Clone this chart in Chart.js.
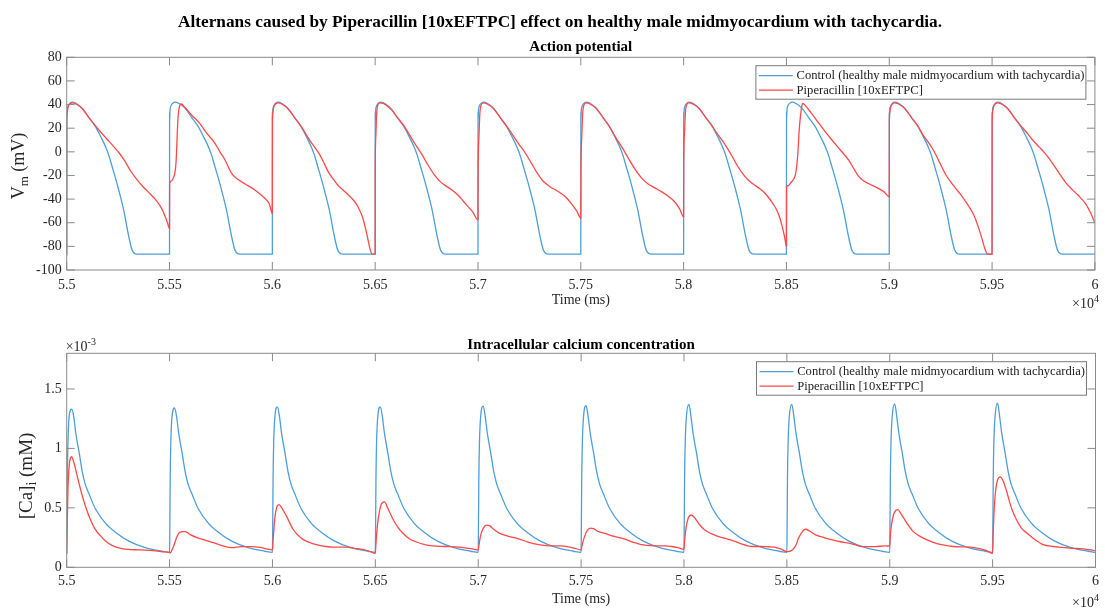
<!DOCTYPE html>
<html>
<head>
<meta charset="utf-8">
<title>Alternans - Piperacillin</title>
<script src="https://cdn.jsdelivr.net/npm/chart.js@4.4.1/dist/chart.umd.min.js"></script>
<style>
  body { margin: 0; background: #fff; }
  #quadro { position: relative; width: 1105px; height: 608px; overflow: hidden; }
  canvas { position: absolute; left: 0; }
</style>
</head>
<body>
<div id="quadro">
  <canvas id="graficoVm" width="1105" height="315" style="top:0;width:1105px;height:315px"></canvas>
  <canvas id="graficoCa" width="1105" height="293" style="top:315px;width:1105px;height:293px"></canvas>
</div>
<script>
// Início de cada batimento (ms) - estímulo a cada 500 ms
const inicioBatimentos = [55000, 55500, 56000, 56500, 57000, 57500, 58000, 58500, 59000, 59500];

// Eixos
const ticksTempo = [55000, 55500, 56000, 56500, 57000, 57500, 58000, 58500, 59000, 59500, 60000];
const rotulosTempo = ['5.5', '5.55', '5.6', '5.65', '5.7', '5.75', '5.8', '5.85', '5.9', '5.95', '6'];
const ticksVm = [-100, -80, -60, -40, -20, 0, 20, 40, 60, 80];
const ticksCa = [0, 0.5, 1, 1.5];
const rotulosCa = ['0', '0.5', '1', '1.5'];

const nomesSeries = ['Control (healthy male midmyocardium with tachycardia)', 'Piperacillin [10xEFTPC]'];

// Potencial de ação do controle: [tempo desde o estímulo (ms), Vm (mV)] - igual em todos os batimentos
const vmControleBatimento = [[0, -86.5], [0.4, 33], [1, 27], [2, 34], [6, 38.5], [15, 41], [30, 42], [50, 40.5], [76, 36.8], [108, 29], [140, 21.3], [165, 13], [189, 4.3], [205, -3], [221, -12.6], [237, -22], [253, -32.3], [277, -49.2], [302, -71.8], [318, -83.1], [334, -86.3], [360, -86.5], [500, -86.5]];

// Potencial de ação com Piperacillin, um array por batimento (alternans)
const vmPipBatimentos = [
  [[0, -88], [0.4, 28], [2, 33], [6, 37.5], [15, 40.5], [30, 41.5], [50, 40], [76, 36.5], [108, 29], [140, 22], [170, 15.7], [200, 10], [226, 5], [255, -1], [280, -7], [310, -16], [335, -22], [371, -29.5], [400, -34.5], [430, -40], [455, -46], [475, -53], [490, -60], [500, -65]],
  [[0, -65], [0.5, -26.6], [10, -24.5], [19, -22], [27, -17], [32, -8], [36, 8], [40, 25], [45, 35], [50, 39.5], [57, 40.5], [75, 37.5], [108, 31], [140, 25.5], [180, 16], [221, 7.2], [245, 0], [270, -6.9], [302, -18.2], [330, -23], [366, -27], [415, -32.3], [463, -39.3], [485, -44], [500, -52]],
  [[0, -52], [0.4, 28], [2, 33], [6, 37.5], [15, 40.5], [30, 41.5], [50, 40], [76, 36.5], [108, 29], [140, 21.5], [181, 10], [210, 3], [229, -2], [250, -9], [272, -17], [300, -24], [320, -28.5], [345, -32.5], [370, -36.5], [395, -41], [415, -46], [440, -56], [460, -70], [475, -82], [485, -86.5], [500, -86.5]],
  [[0, -86.5], [0.5, -12], [3, 12], [7, 32], [12, 39], [22, 41.5], [40, 41], [60, 38.5], [80, 35.5], [108, 29], [140, 22], [165, 15], [200, 5], [230, -3], [260, -12], [290, -20], [315, -25], [345, -29], [375, -32.5], [405, -37], [430, -42], [455, -47], [475, -51], [500, -57.5]],
  [[0, -57.5], [0.5, -20], [4, 10], [9, 32], [15, 39.5], [25, 41.5], [45, 40.5], [76, 36.5], [108, 29], [140, 21.5], [170, 14], [197, 7], [230, -1], [261, -10], [290, -18.5], [315, -24.5], [350, -29.5], [390, -33.5], [425, -38], [455, -44], [480, -50], [500, -56]],
  [[0, -56], [0.5, -21], [4, 10], [9, 32], [15, 39.5], [25, 41.5], [45, 40.5], [76, 36.5], [108, 29], [140, 21], [170, 12], [200, 4], [230, -5], [261, -14], [295, -22], [326, -27], [360, -30.5], [390, -33.5], [425, -37.5], [455, -42], [480, -48], [500, -55]],
  [[0, -55], [0.5, -15], [4, 15], [9, 34], [15, 40], [25, 41.5], [45, 40.5], [76, 36.5], [108, 29], [130, 24], [165, 15], [190, 9], [213, 3], [240, -5], [262, -12], [290, -19], [315, -24], [340, -27.5], [365, -30.5], [390, -34], [410, -38], [435, -44], [455, -50], [470, -57], [482, -65], [492, -73], [500, -80]],
  [[0, -80], [0.5, -29.5], [10, -28.5], [19, -26.6], [32, -24], [43, -20], [50, -12], [56, 0], [62, 18], [68, 30], [73, 37], [79, 41], [95, 38.5], [120, 33], [140, 28.4], [180, 19], [221, 10], [260, 2], [302, -6.9], [330, -15], [350, -20.5], [375, -24.5], [399, -26.8], [447, -30.9], [475, -34], [500, -38]],
  [[0, -38], [0.4, 25], [2, 33], [6, 37.5], [15, 40.5], [25, 41.5], [45, 40.5], [76, 36.5], [108, 29], [140, 21.5], [165, 14], [190, 8], [213, 2], [245, -9], [277, -20], [310, -28], [342, -35], [375, -43], [407, -52], [430, -62], [450, -73], [465, -82], [478, -86.5], [500, -86.5]],
  [[0, -86.5], [0.4, 25], [2, 33], [6, 37.5], [15, 40.5], [27, 41.5], [45, 40.5], [76, 36.5], [108, 29], [140, 22], [165, 17], [197, 10], [230, 4], [261, -2], [295, -10], [326, -18], [358, -26], [390, -32], [420, -37], [455, -44], [480, -52], [500, -60.5]]
];

// Cálcio intracelular do controle (x10^-3 mM); null = pico do batimento (ver picosCaControle)
const caControleBatimento = [[0, 0.12], [1, 0.3], [3, 0.75], [6, 1.05], [12, 1.27], [24, null], [34, 1.27], [44, 1.13], [60, 0.97], [76, 0.8], [90, 0.7], [108, 0.62], [140, 0.49], [189, 0.37], [237, 0.295], [302, 0.22], [382, 0.165], [463, 0.135], [500, 0.125]];
const picosCaControle = [1.33, 1.34, 1.35, 1.35, 1.355, 1.36, 1.37, 1.37, 1.375, 1.38];

// Cálcio intracelular com Piperacillin (x10^-3 mM), um array por batimento
const caPipBatimentos = [
  [[0, 0.11], [2, 0.3], [6, 0.65], [12, 0.85], [24, 0.93], [35, 0.88], [48, 0.79], [65, 0.67], [81, 0.57], [100, 0.47], [113, 0.41], [135, 0.33], [161, 0.27], [190, 0.22], [220, 0.185], [274, 0.155], [355, 0.146], [420, 0.14], [470, 0.13], [500, 0.125]],
  [[0, 0.125], [3, 0.12], [10, 0.14], [20, 0.18], [32, 0.24], [44, 0.285], [60, 0.3], [76, 0.3], [100, 0.275], [140, 0.245], [180, 0.225], [221, 0.203], [260, 0.18], [302, 0.165], [350, 0.174], [399, 0.174], [440, 0.168], [470, 0.155], [500, 0.146]],
  [[0, 0.146], [2, 0.2], [6, 0.3], [12, 0.42], [20, 0.5], [32, 0.527], [45, 0.5], [68, 0.43], [100, 0.32], [130, 0.26], [148, 0.235], [180, 0.21], [213, 0.19], [260, 0.175], [294, 0.17], [358, 0.17], [400, 0.16], [440, 0.15], [471, 0.135], [500, 0.118]],
  [[0, 0.118], [3, 0.2], [10, 0.35], [20, 0.47], [32, 0.54], [44, 0.55], [60, 0.5], [84, 0.41], [108, 0.34], [132, 0.29], [165, 0.24], [197, 0.215], [240, 0.19], [277, 0.18], [342, 0.175], [407, 0.17], [450, 0.16], [471, 0.155], [500, 0.146]],
  [[0, 0.146], [3, 0.18], [12, 0.27], [25, 0.33], [40, 0.355], [55, 0.35], [75, 0.32], [100, 0.29], [140, 0.265], [197, 0.24], [245, 0.21], [294, 0.19], [330, 0.182], [358, 0.18], [400, 0.18], [440, 0.172], [470, 0.16], [500, 0.146]],
  [[0, 0.146], [3, 0.17], [15, 0.25], [30, 0.31], [45, 0.33], [60, 0.325], [85, 0.3], [116, 0.285], [160, 0.26], [213, 0.237], [255, 0.21], [294, 0.19], [340, 0.182], [374, 0.18], [410, 0.18], [439, 0.175], [470, 0.165], [500, 0.152]],
  [[0, 0.152], [3, 0.22], [10, 0.33], [20, 0.41], [35, 0.44], [50, 0.42], [75, 0.36], [100, 0.315], [130, 0.285], [165, 0.26], [213, 0.237], [245, 0.22], [275, 0.2], [310, 0.18], [340, 0.175], [374, 0.175], [410, 0.173], [440, 0.17], [470, 0.155], [500, 0.132]],
  [[0, 0.132], [10, 0.133], [27, 0.146], [45, 0.19], [55, 0.24], [68, 0.28], [80, 0.31], [92, 0.32], [110, 0.305], [140, 0.273], [180, 0.25], [221, 0.23], [260, 0.215], [302, 0.203], [340, 0.185], [366, 0.174], [431, 0.174], [479, 0.18], [500, 0.178]],
  [[0, 0.178], [2, 0.25], [8, 0.35], [18, 0.44], [30, 0.48], [39, 0.485], [55, 0.45], [84, 0.37], [115, 0.3], [148, 0.26], [190, 0.225], [229, 0.2], [270, 0.185], [310, 0.175], [350, 0.172], [391, 0.17], [430, 0.16], [471, 0.14], [500, 0.118]],
  [[0, 0.118], [2, 0.25], [8, 0.5], [15, 0.65], [25, 0.74], [37, 0.76], [50, 0.73], [68, 0.64], [84, 0.54], [100, 0.46], [116, 0.4], [140, 0.33], [165, 0.29], [200, 0.24], [245, 0.19], [294, 0.175], [340, 0.168], [374, 0.162], [410, 0.158], [439, 0.155], [470, 0.148], [500, 0.14]]
];

// Estilo
const fonteSerif = '"Liberation Serif", "Times New Roman", serif';
const corControle = 'rgb(77, 158, 218)';
const corPip = 'rgb(255, 72, 72)';
const corEixo = '#8a8a8a';
const corTexto = '#262626';

// Junta os batimentos numa série só de pontos {x, y}
function montarSerie(batimentos, picos) {
  const pontos = [];
  batimentos.forEach((batimento, i) => {
    batimento.forEach(([t, v]) => {
      const x = inicioBatimentos[i] + t;
      if (pontos.length && pontos[pontos.length - 1].x === x) return; // fim de um batimento = início do próximo
      pontos.push({ x: x, y: v === null ? picos[i] : v });
    });
  });
  return pontos;
}

const serieVmControle = montarSerie(inicioBatimentos.map(() => vmControleBatimento));
const serieVmPip = montarSerie(vmPipBatimentos);
const serieCaControle = montarSerie(inicioBatimentos.map(() => caControleBatimento), picosCaControle);
const serieCaPip = montarSerie(caPipBatimentos);

// Moldura estilo MATLAB: caixa, ticks para dentro, títulos, rótulo do eixo Y, expoentes e legenda
const moldura = {
  id: 'moldura',
  afterDraw(chart, args, op) {
    const { ctx, chartArea: a, scales } = chart;
    ctx.save();

    // caixa + ticks nos quatro lados
    ctx.strokeStyle = corEixo;
    ctx.lineWidth = 1;
    ctx.strokeRect(a.left, a.top, a.right - a.left, a.bottom - a.top);
    ctx.beginPath();
    scales.x.ticks.forEach(t => {
      const px = scales.x.getPixelForValue(t.value);
      ctx.moveTo(px, a.bottom); ctx.lineTo(px, a.bottom - 8);
      ctx.moveTo(px, a.top); ctx.lineTo(px, a.top + 8);
    });
    scales.y.ticks.forEach(t => {
      const py = scales.y.getPixelForValue(t.value);
      ctx.moveTo(a.left, py); ctx.lineTo(a.left + 8, py);
      ctx.moveTo(a.right, py); ctx.lineTo(a.right - 8, py);
    });
    ctx.stroke();

    // títulos
    ctx.fillStyle = '#000';
    ctx.textAlign = 'center';
    ctx.textBaseline = 'alphabetic';
    if (op.tituloGeral) {
      ctx.font = 'bold 17.3px ' + fonteSerif;
      ctx.fillText(op.tituloGeral, 560, op.yTituloGeral);
    }
    ctx.font = 'bold 15px ' + fonteSerif;
    ctx.fillText(op.subtitulo, (a.left + a.right) / 2, op.ySubtitulo);

    // rótulo do eixo Y com subscrito
    ctx.fillStyle = corTexto;
    ctx.translate(op.xRotuloY, op.yRotuloY);
    ctx.rotate(-Math.PI / 2);
    ctx.textAlign = 'left';
    const fBase = op.tamRotuloY + 'px ' + fonteSerif, fSub = Math.round(op.tamRotuloY * 0.72) + 'px ' + fonteSerif;
    ctx.font = fBase; const w1 = ctx.measureText(op.rotuloY[0]).width;
    ctx.font = fSub; const w2 = ctx.measureText(op.rotuloY[1]).width;
    ctx.font = fBase; const w3 = ctx.measureText(op.rotuloY[2]).width;
    let xi = -(w1 + w2 + w3) / 2;
    ctx.font = fBase; ctx.fillText(op.rotuloY[0], xi, 6); xi += w1;
    ctx.font = fSub; ctx.fillText(op.rotuloY[1], xi, 10); xi += w2;
    ctx.font = fBase; ctx.fillText(op.rotuloY[2], xi, 6);
    ctx.setTransform(1, 0, 0, 1, 0, 0);

    // expoentes (x10^4 no tempo, x10^-3 no cálcio)
    function expoente(base, exp, x, y, alinhaDireita) {
      ctx.font = '14px ' + fonteSerif;
      const wb = ctx.measureText(base).width;
      ctx.font = '10px ' + fonteSerif;
      const we = ctx.measureText(exp).width;
      const x0 = alinhaDireita ? x - wb - we : x;
      ctx.textAlign = 'left';
      ctx.font = '14px ' + fonteSerif;
      ctx.fillText(base, x0, y);
      ctx.font = '10px ' + fonteSerif;
      ctx.fillText(exp, x0 + wb, y - 6);
    }
    expoente('\u00d710', '4', 1099, op.yExpX, true);
    if (op.yExpY) expoente('\u00d710', '-3', a.left - 1, op.yExpY, false);

    // legenda
    const lx = a.right - 339, ly = a.top + 8.4, lw = 330, lh = 33.5;
    ctx.fillStyle = '#fff';
    ctx.fillRect(lx, ly, lw, lh);
    ctx.strokeStyle = '#7a7a7a';
    ctx.strokeRect(lx, ly, lw, lh);
    ctx.font = '12.6px ' + fonteSerif;
    ctx.textBaseline = 'middle';
    chart.data.datasets.slice().sort((d1, d2) => d1.legenda - d2.legenda).forEach((ds, i) => {
      const yy = ly + 10 + i * 14.5;
      ctx.strokeStyle = ds.borderColor;
      ctx.lineWidth = 1.2;
      ctx.beginPath(); ctx.moveTo(lx + 3, yy); ctx.lineTo(lx + 37, yy); ctx.stroke();
      ctx.fillStyle = '#222';
      ctx.fillText(ds.label, lx + 40.7, yy);
    });
    ctx.restore();
  }
};

function opcoesEixos(cfg) {
  return {
    x: {
      type: 'linear', min: 55000, max: 60000,
      afterBuildTicks: s => { s.ticks = ticksTempo.map(v => ({ value: v })); },
      afterFit: s => { s.height = cfg.alturaX; },
      ticks: { autoSkip: false, maxRotation: 0, padding: cfg.padTickX, color: corTexto,
        font: { family: fonteSerif, size: 14 }, callback: (v, i) => rotulosTempo[i] },
      grid: { display: false, drawTicks: false },
      border: { display: false },
      title: { display: true, text: 'Time (ms)', color: corTexto, font: { family: fonteSerif, size: 14 },
        padding: { top: 0, bottom: cfg.padTituloX } }
    },
    y: {
      type: 'linear', min: cfg.yMin, max: cfg.yMax,
      afterBuildTicks: s => { s.ticks = cfg.ticksY.map(v => ({ value: v })); },
      afterFit: s => { s.width = 66.7; },
      ticks: { padding: 5, color: corTexto, font: { family: fonteSerif, size: 14 },
        callback: (v, i) => cfg.rotulosY ? cfg.rotulosY[i] : String(v) },
      grid: { display: false, drawTicks: false },
      border: { display: false }
    }
  };
}

function conjuntos(controle, pip) {
  return [
    { label: nomesSeries[0], legenda: 0, order: 1, data: controle, borderColor: corControle, borderWidth: 1.3,
      pointRadius: 0, cubicInterpolationMode: 'monotone', fill: false },
    { label: nomesSeries[1], legenda: 1, order: 0, data: pip, borderColor: corPip, borderWidth: 1.3,
      pointRadius: 0, cubicInterpolationMode: 'monotone', fill: false }
  ];
}

// Gráfico de cima: potencial de ação
const ctxVm = document.getElementById('graficoVm').getContext('2d');
const graficoVm = new Chart(ctxVm, {
  type: 'line',
  data: { datasets: conjuntos(serieVmControle, serieVmPip) },
  options: {
    responsive: false, animation: false, devicePixelRatio: 1,
    layout: { padding: { top: 57.3, right: 6, left: 0, bottom: 0 } },
    plugins: {
      legend: { display: false }, tooltip: { enabled: false },
      moldura: {
        tituloGeral: 'Alternans caused by Piperacillin [10xEFTPC] effect on healthy male midmyocardium with tachycardia.',
        yTituloGeral: 26.5, subtitulo: 'Action potential', ySubtitulo: 50.5,
        rotuloY: ['V', 'm', ' (mV)'], tamRotuloY: 18, xRotuloY: 18, yRotuloY: 166,
        yExpX: 308
      }
    },
    scales: opcoesEixos({ alturaX: 45, padTickX: 6.6, padTituloX: 6.6, yMin: -100, yMax: 80, ticksY: ticksVm })
  },
  plugins: [moldura]
});

// Gráfico de baixo: cálcio intracelular
const ctxCa = document.getElementById('graficoCa').getContext('2d');
const graficoCa = new Chart(ctxCa, {
  type: 'line',
  data: { datasets: conjuntos(serieCaControle, serieCaPip) },
  options: {
    responsive: false, animation: false, devicePixelRatio: 1,
    layout: { padding: { top: 38.3, right: 6, left: 0, bottom: 0 } },
    plugins: {
      legend: { display: false }, tooltip: { enabled: false },
      moldura: {
        subtitulo: 'Intracellular calcium concentration', ySubtitulo: 34,
        rotuloY: ['[Ca]', 'i', ' (mM)'], tamRotuloY: 19, xRotuloY: 26, yRotuloY: 161,
        yExpX: 291.5, yExpY: 35.5
      }
    },
    scales: opcoesEixos({ alturaX: 40.7, padTickX: 6, padTituloX: 0, yMin: 0, yMax: 1.8, ticksY: ticksCa, rotulosY: rotulosCa })
  },
  plugins: [moldura]
});
</script>
</body>
</html>
